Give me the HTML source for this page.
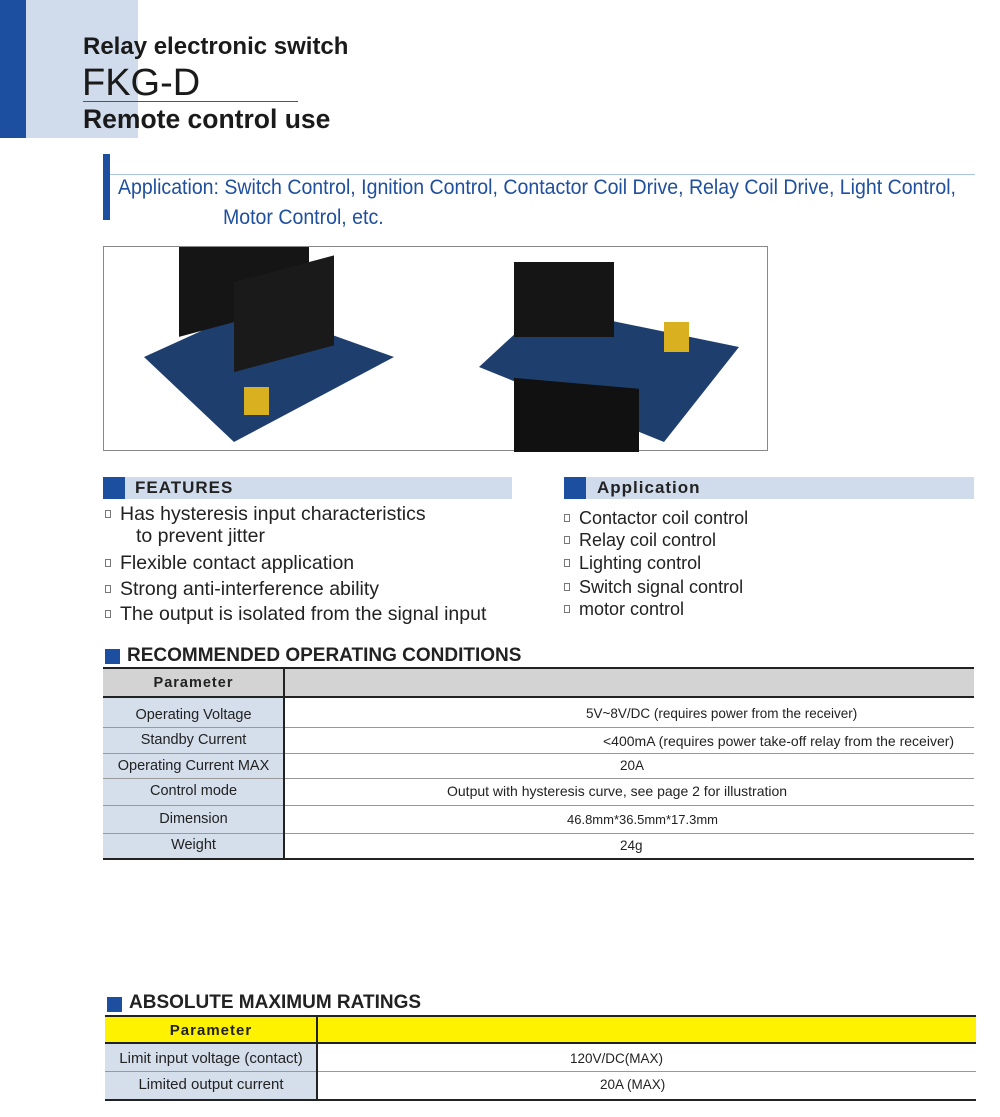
<!DOCTYPE html>
<html><head><meta charset="utf-8"><style>
*{margin:0;padding:0;box-sizing:border-box}
body{width:1000px;height:1117px;background:#fff;position:relative;overflow:hidden;font-family:"Liberation Sans",sans-serif;color:#222}
.a{position:absolute;white-space:nowrap}
.c{position:absolute;white-space:nowrap;text-align:center}
.row{position:absolute;left:103px;width:871px;border-bottom:1px solid #999}
.b{display:inline-block;width:6px;height:8px;border:1px solid #777;margin-right:9px;vertical-align:2px}
</style></head><body>
<div class="a" style="left:0;top:0;width:26px;height:138px;background:#1d4fa0"></div>
<div class="a" style="left:26px;top:0;width:112px;height:138px;background:#d0dcec"></div>
<div class="a" style="left:83px;top:33px;font-size:24px;font-weight:bold;color:#1a1a1a">Relay electronic switch</div>
<div class="a" style="left:82px;top:62px;font-size:38px;color:#1a1a1a">FKG-D</div>
<div class="a" style="left:83px;top:101px;width:215px;height:1px;background:#555"></div>
<div class="a" style="left:83px;top:104px;font-size:26.5px;font-weight:bold;color:#1a1a1a">Remote control use</div>

<div class="a" style="left:103px;top:154px;width:7px;height:66px;background:#1d4fa0"></div>
<div class="a" style="left:110px;top:174px;width:865px;height:1px;background:#a9c3e3"></div>
<div class="a" style="left:118px;top:176px;font-size:21px;color:#1f4f9e;transform:scaleX(0.93);transform-origin:left">Application: Switch Control, Ignition Control, Contactor Coil Drive, Relay Coil Drive, Light Control,</div>
<div class="a" style="left:223px;top:206px;font-size:21px;color:#1f4f9e;transform:scaleX(0.93);transform-origin:left">Motor Control, etc.</div>

<div class="a" style="left:103px;top:246px;width:665px;height:205px;border:1px solid #888;background:#fff">
<svg width="665" height="205">
<polygon points="40,110 150,60 290,110 130,195" fill="#1e3f6e"/>
<rect x="75" y="20" width="130" height="90" fill="#151515" transform="skewY(-15)"/>
<rect x="130" y="70" width="100" height="90" fill="#1a1a1a" transform="skewY(-15)"/>
<rect x="140" y="140" width="25" height="28" fill="#d9b020"/>
<polygon points="375,120 440,60 635,100 560,195" fill="#1e3f6e"/>
<rect x="410" y="15" width="100" height="75" fill="#151515"/>
<rect x="410" y="95" width="125" height="80" fill="#111" transform="skewY(5)"/>
<rect x="560" y="75" width="25" height="30" fill="#d9b020"/>
</svg></div>

<div class="a" style="left:103px;top:477px;width:22px;height:22px;background:#1d4fa0"></div>
<div class="a" style="left:125px;top:477px;width:387px;height:22px;background:#d0dcec"></div>
<div class="a" style="left:135px;top:478px;font-size:17px;font-weight:bold;color:#222;letter-spacing:1px">FEATURES</div>
<div class="a" style="left:564px;top:477px;width:22px;height:22px;background:#1d4fa0"></div>
<div class="a" style="left:586px;top:477px;width:388px;height:22px;background:#d0dcec"></div>
<div class="a" style="left:597px;top:478px;font-size:17px;font-weight:bold;color:#222;letter-spacing:1px">Application</div>

<div style="font-size:19.5px;color:#222">
<div class="a" style="left:105px;top:503px"><span class="b"></span>Has hysteresis input characteristics</div>
<div class="a" style="left:136px;top:525px">to prevent jitter</div>
<div class="a" style="left:105px;top:552px"><span class="b"></span>Flexible contact application</div>
<div class="a" style="left:105px;top:578px"><span class="b"></span>Strong anti-interference ability</div>
<div class="a" style="left:105px;top:603px"><span class="b"></span>The output is isolated from the signal input</div>
<div class="a" style="left:564px;top:508px;font-size:18px"><span class="b"></span>Contactor coil control</div>
<div class="a" style="left:564px;top:530px;font-size:18px"><span class="b"></span>Relay coil control</div>
<div class="a" style="left:564px;top:553px;font-size:18px"><span class="b"></span>Lighting control</div>
<div class="a" style="left:564px;top:577px;font-size:18px"><span class="b"></span>Switch signal control</div>
<div class="a" style="left:564px;top:599px;font-size:18px"><span class="b"></span>motor control</div>
</div>

<div class="a" style="left:105px;top:649px;width:15px;height:15px;background:#1d4fa0"></div>
<div class="a" style="left:127px;top:645px;font-size:19px;font-weight:bold;color:#222">RECOMMENDED OPERATING CONDITIONS</div>
<div class="a" style="left:103px;top:667px;width:871px;height:2px;background:#222"></div>
<div class="a" style="left:103px;top:669px;width:871px;height:29px;background:#d3d3d3;border-bottom:2px solid #222"></div>
<div class="a" style="left:103px;top:698px;width:181px;height:161px;background:#d5deeb"></div>
<div class="row" style="top:698px;height:30px"></div>
<div class="row" style="top:728px;height:26px"></div>
<div class="row" style="top:754px;height:25px"></div>
<div class="row" style="top:779px;height:27px"></div>
<div class="row" style="top:806px;height:28px"></div>
<div class="a" style="left:103px;top:858px;width:871px;height:2px;background:#222"></div>
<div class="a" style="left:283px;top:667px;width:2px;height:193px;background:#222"></div>
<div style="font-size:14.5px;color:#222">
<div class="c" style="left:103px;width:181px;top:675px;font-weight:bold;letter-spacing:1px">Parameter</div>
<div class="c" style="left:103px;width:181px;top:707px">Operating Voltage</div>
<div class="c" style="left:103px;width:181px;top:732px">Standby Current</div>
<div class="c" style="left:103px;width:181px;top:758px">Operating Current MAX</div>
<div class="c" style="left:103px;width:181px;top:783px">Control mode</div>
<div class="c" style="left:103px;width:181px;top:811px">Dimension</div>
<div class="c" style="left:103px;width:181px;top:837px">Weight</div>
<div class="a" style="left:586px;top:706px;font-size:13.5px">5V~8V/DC (requires power from the receiver)</div>
<div class="a" style="left:603px;top:733px;font-size:14px">&lt;400mA (requires power take-off relay from the receiver)</div>
<div class="a" style="left:620px;top:758px;font-size:13.5px">20A</div>
<div class="a" style="left:447px;top:783px;font-size:14px">Output with hysteresis curve, see page 2 for illustration</div>
<div class="a" style="left:567px;top:812px;font-size:13px">46.8mm*36.5mm*17.3mm</div>
<div class="a" style="left:620px;top:838px;font-size:13.5px">24g</div>
</div>

<div class="a" style="left:107px;top:997px;width:15px;height:15px;background:#1d4fa0"></div>
<div class="a" style="left:129px;top:992px;font-size:19px;font-weight:bold;color:#222">ABSOLUTE MAXIMUM RATINGS</div>
<div class="a" style="left:105px;top:1015px;width:871px;height:2px;background:#222"></div>
<div class="a" style="left:105px;top:1017px;width:871px;height:27px;background:#fff200;border-bottom:2px solid #222"></div>
<div class="a" style="left:105px;top:1044px;width:212px;height:56px;background:#d5deeb"></div>
<div class="a" style="left:105px;top:1071px;width:871px;height:1px;background:#999"></div>
<div class="a" style="left:105px;top:1099px;width:871px;height:2px;background:#222"></div>
<div class="a" style="left:316px;top:1015px;width:2px;height:86px;background:#222"></div>
<div style="font-size:15px;color:#222">
<div class="c" style="left:105px;width:212px;top:1022px;font-weight:bold;letter-spacing:1px">Parameter</div>
<div class="c" style="left:105px;width:212px;top:1050px">Limit input voltage (contact)</div>
<div class="c" style="left:105px;width:212px;top:1076px">Limited output current</div>
<div class="a" style="left:570px;top:1051px;font-size:13.5px">120V/DC(MAX)</div>
<div class="a" style="left:600px;top:1077px;font-size:13.5px">20A (MAX)</div>
</div>
</body></html>
